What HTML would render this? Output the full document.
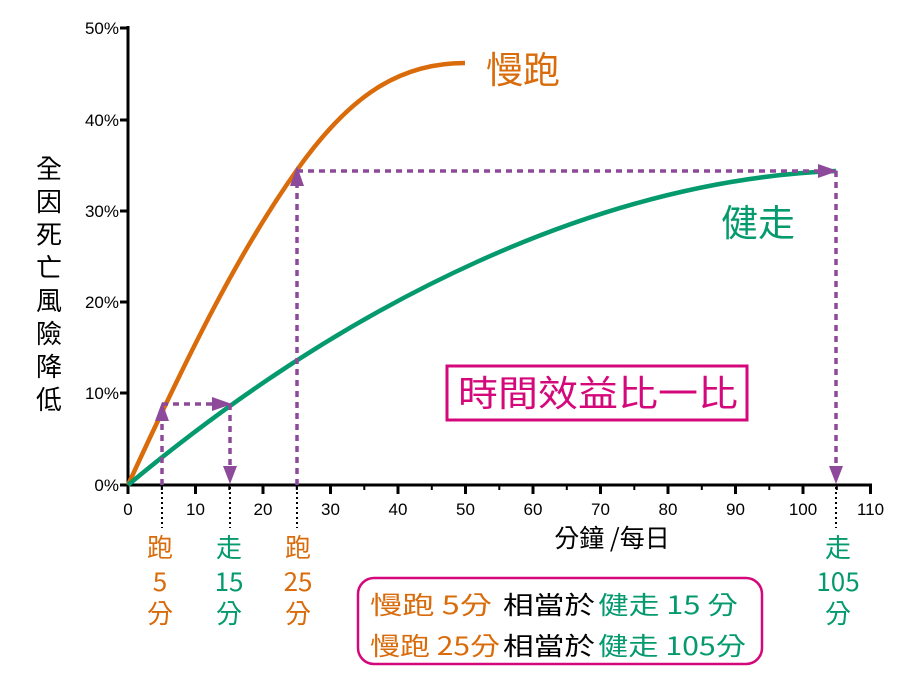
<!DOCTYPE html>
<html><head><meta charset="utf-8"><style>
body{margin:0;background:#fff;}
svg text{font-family:"Noto Sans CJK TC","Liberation Sans",sans-serif;}
svg .lat text{font-family:"Liberation Sans",sans-serif;}
</style></head><body>
<svg width="914" height="680" viewBox="0 0 914 680" xmlns="http://www.w3.org/2000/svg">
<g class="lat" fill="#000" font-size="17" text-anchor="end">
<text x="119" y="34">50%</text><text x="119" y="126">40%</text><text x="119" y="217">30%</text>
<text x="119" y="308">20%</text><text x="119" y="399">10%</text><text x="119" y="491">0%</text>
</g>
<g stroke="#000" stroke-width="3">
<line x1="128" y1="26" x2="128" y2="487"/>
<line x1="126" y1="485" x2="872" y2="485"/>
<line x1="120" y1="28" x2="128" y2="28"/><line x1="120" y1="120" x2="128" y2="120"/><line x1="120" y1="211" x2="128" y2="211"/>
<line x1="120" y1="302" x2="128" y2="302"/><line x1="120" y1="393" x2="128" y2="393"/><line x1="120" y1="485" x2="128" y2="485"/>
</g>
<g stroke="#000" stroke-width="3">
<line x1="128" y1="485" x2="128" y2="494"/><line x1="195.5" y1="485" x2="195.5" y2="494"/><line x1="263" y1="485" x2="263" y2="494"/>
<line x1="330.5" y1="485" x2="330.5" y2="494"/><line x1="398" y1="485" x2="398" y2="494"/><line x1="465.5" y1="485" x2="465.5" y2="494"/>
<line x1="533" y1="485" x2="533" y2="494"/><line x1="600.5" y1="485" x2="600.5" y2="494"/><line x1="668" y1="485" x2="668" y2="494"/>
<line x1="735.5" y1="485" x2="735.5" y2="494"/><line x1="803" y1="485" x2="803" y2="494"/><line x1="870.5" y1="485" x2="870.5" y2="494"/>
</g>
<g stroke="#000" stroke-width="2">
<line x1="161.8" y1="485" x2="161.8" y2="490"/><line x1="229.3" y1="485" x2="229.3" y2="490"/><line x1="296.8" y1="485" x2="296.8" y2="490"/>
<line x1="364.3" y1="485" x2="364.3" y2="490"/><line x1="431.8" y1="485" x2="431.8" y2="490"/><line x1="499.3" y1="485" x2="499.3" y2="490"/>
<line x1="566.8" y1="485" x2="566.8" y2="490"/><line x1="634.3" y1="485" x2="634.3" y2="490"/><line x1="701.8" y1="485" x2="701.8" y2="490"/>
<line x1="769.3" y1="485" x2="769.3" y2="490"/><line x1="836.8" y1="485" x2="836.8" y2="490"/>
</g>
<g class="lat" fill="#000" font-size="17" text-anchor="middle">
<text x="128" y="515">0</text><text x="195.5" y="515">10</text><text x="263" y="515">20</text><text x="330.5" y="515">30</text>
<text x="398" y="515">40</text><text x="465.5" y="515">50</text><text x="533" y="515">60</text><text x="600.5" y="515">70</text>
<text x="668" y="515">80</text><text x="735.5" y="515">90</text><text x="803" y="515">100</text><text x="870.5" y="515">110</text>
</g>
<text x="612" y="547" font-size="25" text-anchor="middle" fill="#000">分鐘 /每日</text>
<g font-size="26" fill="#000" text-anchor="middle">
<text x="49" y="178">全</text><text x="49" y="211">因</text><text x="49" y="244">死</text><text x="49" y="277">亡</text>
<text x="49" y="310">風</text><text x="49" y="343">險</text><text x="49" y="376">降</text><text x="49" y="409">低</text>
</g>
<g stroke="#000" stroke-width="2" stroke-dasharray="2,3">
<line x1="162" y1="487" x2="162" y2="528"/><line x1="230" y1="487" x2="230" y2="528"/>
<line x1="297" y1="487" x2="297" y2="528"/><line x1="836" y1="487" x2="836" y2="528"/>
</g>
<path fill="none" stroke="#D96B0A" stroke-width="4.5" d="M128,485 C190,350 240,250 297,170 C350,95 400,63 465,63"/>
<path fill="none" stroke="#049A6E" stroke-width="4.5" d="M128,485 C350,300 600,180 836,171"/>
<g stroke="#8E4A9A" stroke-width="3.5" stroke-dasharray="6,5" fill="none">
<line x1="162" y1="485" x2="162" y2="418"/><line x1="162" y1="404" x2="215" y2="404"/>
<line x1="230" y1="404" x2="230" y2="470"/>
<line x1="297" y1="485" x2="297" y2="185"/><line x1="297" y1="171" x2="820" y2="171"/>
<line x1="836" y1="171" x2="836" y2="470"/>
</g>
<g fill="#8E4A9A">
<polygon points="162,402 155,421 169,421"/><polygon points="232,404 212,397 212,411"/>
<polygon points="230,484 223,466 237,466"/><polygon points="297,166 290,186 304,186"/>
<polygon points="838,171 818,164 818,178"/><polygon points="836,484 829,466 843,466"/>
</g>
<text x="486" y="83" font-size="37" fill="#D96B0A">慢跑</text>
<text x="721" y="236" font-size="37" fill="#049A6E">健走</text>
<rect x="447" y="366" width="300" height="54" fill="none" stroke="#D5087B" stroke-width="3"/>
<text x="458" y="406" font-size="36" fill="#D5087B" textLength="280" lengthAdjust="spacingAndGlyphs">時間效益比一比</text>
<g font-size="26" text-anchor="middle">
<text x="160" y="557" fill="#D96B0A">跑</text><text x="160" y="591" fill="#D96B0A">5</text><text x="160" y="623" fill="#D96B0A">分</text>
<text x="229" y="557" fill="#049A6E">走</text><text x="229" y="591" fill="#049A6E">15</text><text x="229" y="623" fill="#049A6E">分</text>
<text x="298" y="557" fill="#D96B0A">跑</text><text x="298" y="591" fill="#D96B0A">25</text><text x="298" y="623" fill="#D96B0A">分</text>
<text x="838" y="557" fill="#049A6E">走</text><text x="838" y="591" fill="#049A6E">105</text><text x="838" y="623" fill="#049A6E">分</text>
</g>
<rect x="358" y="578" width="404" height="86" rx="16" fill="none" stroke="#D5087B" stroke-width="2.5"/>
<g font-size="25">
<text x="370" y="614" fill="#D96B0A" textLength="122" lengthAdjust="spacingAndGlyphs">慢跑  5分</text>
<text x="503" y="614" fill="#000" textLength="92" lengthAdjust="spacingAndGlyphs">相當於</text>
<text x="598" y="614" fill="#049A6E" textLength="140" lengthAdjust="spacingAndGlyphs">健走 15 分</text>
<text x="370" y="655" fill="#D96B0A" textLength="130" lengthAdjust="spacingAndGlyphs">慢跑 25分</text>
<text x="503" y="655" fill="#000" textLength="92" lengthAdjust="spacingAndGlyphs">相當於</text>
<text x="598" y="655" fill="#049A6E" textLength="148" lengthAdjust="spacingAndGlyphs">健走 105分</text>
</g>
</svg>
</body></html>
